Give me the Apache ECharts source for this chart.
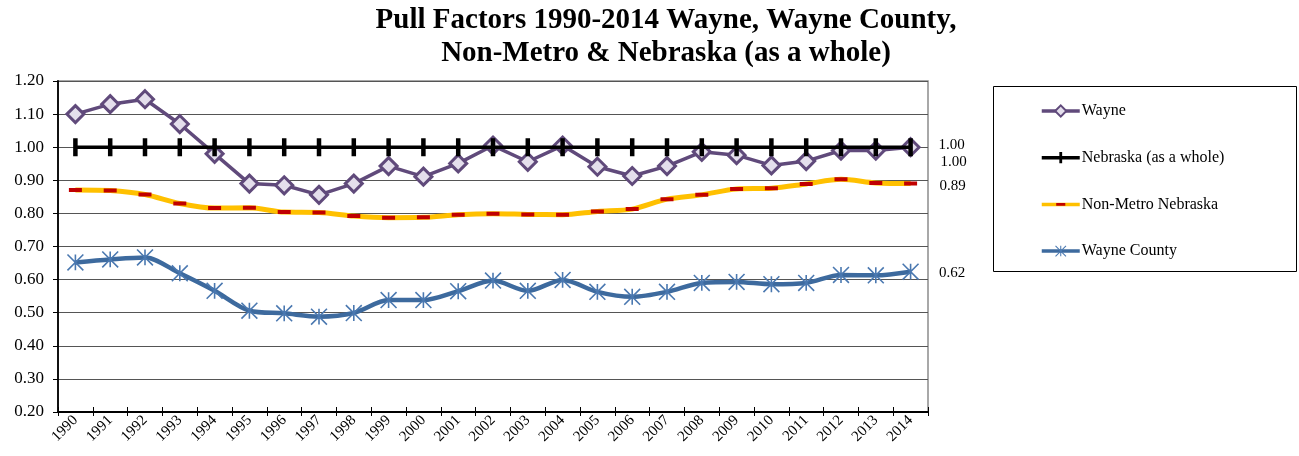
<!DOCTYPE html>
<html>
<head>
<meta charset="utf-8">
<script src="https://cdn.jsdelivr.net/npm/echarts@6/dist/echarts.min.js"></script>
<style>
html,body{margin:0;padding:0;background:#fff;}
#chart{width:1299px;height:456px;}
</style>
</head>
<body>
<div id="chart"></div>
<script>
const years = ['1990','1991','1992','1993','1994','1995','1996','1997','1998','1999','2000','2001','2002','2003','2004','2005','2006','2007','2008','2009','2010','2011','2012','2013','2014'];
const wayne = [1.10,1.13,1.145,1.07,0.98,0.89,0.885,0.856,0.89,0.943,0.911,0.951,1.005,0.956,1.005,0.941,0.913,0.943,0.986,0.976,0.945,0.958,0.99,0.99,1.00];
const nebraska = [1,1,1,1,1,1,1,1,1,1,1,1,1,1,1,1,1,1,1,1,1,1,1,1,1];
const nonMetro = [0.871,0.869,0.857,0.83,0.816,0.817,0.804,0.803,0.792,0.787,0.788,0.796,0.799,0.797,0.796,0.806,0.813,0.843,0.856,0.874,0.876,0.889,0.903,0.892,0.89];
const wayneCounty = [0.652,0.661,0.667,0.619,0.566,0.506,0.498,0.488,0.499,0.538,0.538,0.565,0.597,0.566,0.599,0.563,0.548,0.563,0.59,0.593,0.586,0.59,0.614,0.613,0.624];
const yTicks = {min:0.2, max:1.2, interval:0.1};
const seriesNames = ['Wayne','Nebraska (as a whole)','Non-Metro Nebraska','Wayne County'];

const FONT = '"Liberation Serif","Times New Roman",serif';

function withEndLabel(values, distance, dy){
  return values.map((v,i)=> i===values.length-1 ? {
    value:v,
    label:{show:true, position:'right', distance:distance, offset:[0,dy],
      formatter:(p)=>Number(p.value).toFixed(2),
      fontFamily:FONT, fontSize:15, color:'#000'}
  } : v);
}

// square-bbox paths (degenerate corner points keep the bounding box square)
const starPath = 'path://M-1,-10L1,-10L1,10L-1,10Z M-10.7,-9.3L-9.3,-10.7L10.7,9.3L9.3,10.7Z M-10.7,9.3L9.3,-10.7L10.7,-9.3L-9.3,10.7Z';
const barPath = 'path://M-8,-8L-8,-8Z M8,8L8,8Z M-2,-8L2,-8L2,8L-2,8Z';
const dashPath = 'path://M-8,-8L-8,-8Z M8,8L8,8Z M-6.5,-2L6.5,-2L6.5,2L-6.5,2Z';

const chart = echarts.init(document.getElementById('chart'), null, {renderer:'canvas'});
chart.setOption({
  backgroundColor:'#fff',
  animation:false,
  title:{
    text:'Pull Factors 1990-2014 Wayne, Wayne County,\nNon-Metro & Nebraska (as a whole)',
    left:666, top:4, padding:0, textAlign:'center',
    textStyle:{fontFamily:FONT, fontWeight:'bold', fontSize:29, lineHeight:33, color:'#000'}
  },
  legend:{
    orient:'vertical', left:1040, top:101, padding:0,
    itemWidth:38, itemHeight:14, itemGap:26.7,
    data:seriesNames.map(n=>({name:n, lineStyle:{width:3.5}})),
    textStyle:{fontFamily:FONT, fontSize:16, lineHeight:20, color:'#000', padding:[0,0,0,-3]}
  },
  graphic:[{
    type:'rect', silent:true,
    shape:{x:993.5, y:86.5, width:303, height:185},
    style:{fill:'none', stroke:'#000', lineWidth:1}
  }],
  grid:{left:58, right:371, top:81, bottom:44, show:true, borderColor:'#8c8c8c', borderWidth:1.5, backgroundColor:'transparent'},
  xAxis:[{
    type:'category', data:years, boundaryGap:true,
    axisLine:{show:true, lineStyle:{color:'#000', width:1.8}},
    axisTick:{show:true, inside:false, length:4, lineStyle:{color:'#000', width:1}},
    axisLabel:{rotate:45, margin:6, fontFamily:FONT, fontSize:15, color:'#000', interval:0},
    splitLine:{show:false}
  },{
    type:'category', data:years, boundaryGap:true, position:'bottom', offset:0,
    axisLine:{show:false},
    axisTick:{show:true, inside:true, length:5, lineStyle:{color:'#000', width:1}},
    axisLabel:{show:false}, splitLine:{show:false}
  }],
  yAxis:{
    type:'value', min:yTicks.min, max:yTicks.max, interval:yTicks.interval,
    axisLine:{show:true, lineStyle:{color:'#000', width:1.8}},
    axisTick:{show:true, inside:false, length:5, lineStyle:{color:'#000'}},
    axisLabel:{margin:14, fontFamily:FONT, fontSize:17, color:'#000', formatter:(v)=>v.toFixed(2)},
    splitLine:{show:true, lineStyle:{color:'#555', width:1}}
  },
  series:[{
    name:seriesNames[0], type:'line', data:withEndLabel(wayne, 20, 15),
    symbol:'diamond', symbolSize:17,
    lineStyle:{color:'#604A7B', width:3.5},
    itemStyle:{color:'#E4DFEC', borderColor:'#604A7B', borderWidth:3},
    z:2
  },{
    name:seriesNames[1], type:'line', data:withEndLabel(nebraska, 19, -2),
    symbol:barPath, symbolSize:18,
    lineStyle:{color:'#000', width:3.5},
    itemStyle:{color:'#000', borderWidth:0},
    z:3
  },{
    name:seriesNames[2], type:'line', data:withEndLabel(nonMetro, 21, 2),
    smooth:0.3,
    symbol:dashPath, symbolSize:16,
    lineStyle:{color:'#FFC000', width:5},
    itemStyle:{color:'#C00000', borderWidth:0},
    z:4
  },{
    name:seriesNames[3], type:'line', data:withEndLabel(wayneCounty, 20, 1.5),
    smooth:0.3,
    symbol:starPath, symbolSize:17,
    lineStyle:{color:'#3D6A9E', width:4.5},
    itemStyle:{color:'#4A78B0', borderWidth:0},
    z:5
  }]
});
</script>
</body>
</html>
